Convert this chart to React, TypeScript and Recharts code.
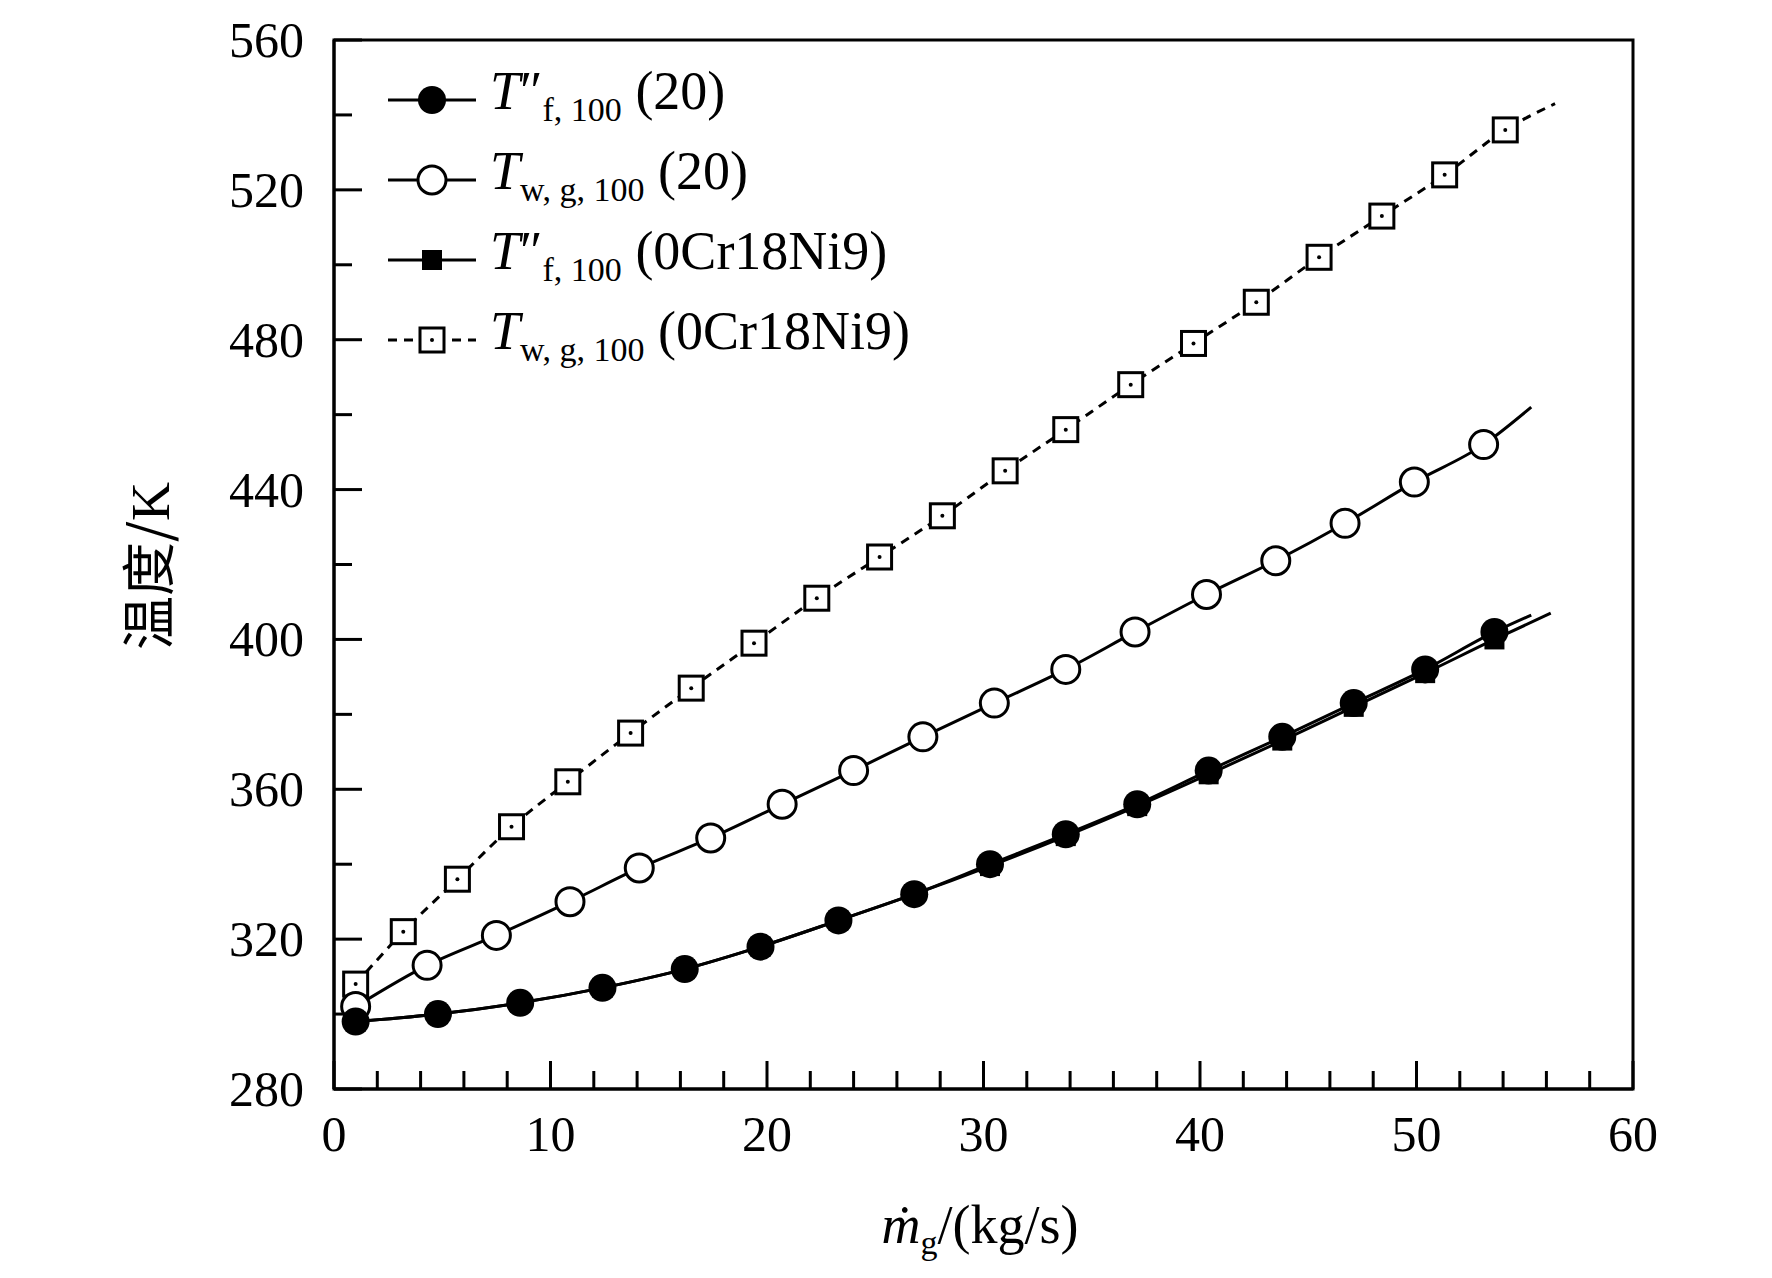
import React from 'react';
import { LineChart, Line, XAxis, YAxis, ReferenceArea } from 'recharts';

// filled circles: T''f,100 (20)
const fc_x = [1, 4.8, 8.6, 12.4, 16.2, 19.7, 23.3, 26.8, 30.3, 33.8, 37.1, 40.4, 43.8, 47.1, 50.4, 53.6, 55.3];
const fc_y = [298, 300, 303, 307, 312, 318, 325, 332, 340, 348, 356, 365, 374, 383, 392, 402, 406.5];
// filled squares: T''f,100 (0Cr18Ni9)
const fs_x = [1, 4.8, 8.6, 12.4, 16.2, 19.7, 23.3, 26.8, 30.3, 33.8, 37.1, 40.4, 43.8, 47.1, 50.4, 53.6, 56.2];
const fs_y = [298, 300, 303, 307, 312, 318, 325, 332, 339.5, 347.5, 355.5, 364, 373, 382, 391, 400, 407];
// open circles: Tw,g,100 (20)
const oc_x = [1, 4.3, 7.5, 10.9, 14.1, 17.4, 20.7, 24, 27.2, 30.5, 33.8, 37, 40.3, 43.5, 46.7, 49.9, 53.1, 55.3];
const oc_y = [302, 313, 321, 330, 339, 347, 356, 365, 374, 383, 392, 402, 412, 421, 431, 442, 452, 462];
// open squares: Tw,g,100 (0Cr18Ni9)
const os_x = [1, 3.2, 5.7, 8.2, 10.8, 13.7, 16.5, 19.4, 22.3, 25.2, 28.1, 31, 33.8, 36.8, 39.7, 42.6, 45.5, 48.4, 51.3, 54.1, 56.4];
const os_y = [308, 322, 336, 350, 362, 375, 387, 399, 411, 422, 433, 445, 456, 468, 479, 490, 502, 513, 524, 536, 543];

const xTicks = [0, 2, 4, 6, 8, 10, 12, 14, 16, 18, 20, 22, 24, 26, 28, 30, 32, 34, 36, 38, 40, 42, 44, 46, 48, 50, 52, 54, 56, 58, 60];
const yTicks = [280, 300, 320, 340, 360, 380, 400, 420, 440, 460, 480, 500, 520, 540, 560];

const build = (xs: number[], ys: number[]) =>
  xs.map((x, i) => ({ x, y: ys[i], last: i === xs.length - 1 }));

const FONT = '"Liberation Serif", "Times New Roman", serif';

const mkDot = (kind: string) => (p: any) => {
  const { cx, cy, payload, index } = p;
  if (payload.last || cx == null) return <g key={index} />;
  if (kind === 'fc') return <circle key={index} cx={cx} cy={cy} r={14} fill="#000" />;
  if (kind === 'oc') return <circle key={index} cx={cx} cy={cy} r={14} fill="#fff" stroke="#000" strokeWidth={3} />;
  if (kind === 'fs') return <rect key={index} x={cx - 10} y={cy - 10} width={20} height={20} fill="#000" />;
  return (
    <g key={index}>
      <rect x={cx - 12} y={cy - 12} width={24} height={24} fill="#fff" stroke="#000" strokeWidth={3} />
      <circle cx={cx} cy={cy} r={2} fill="#000" />
    </g>
  );
};

const XTick = (p: any) => {
  const { x, y, payload } = p;
  const major = payload.value % 10 === 0;
  return (
    <g>
      <line x1={x} y1={y} x2={x} y2={y - (major ? 28 : 18)} stroke="#000" strokeWidth={3} />
      {major ? <text x={x} y={y + 62} textAnchor="middle" fontSize={50} fontFamily={FONT} fill="#000">{payload.value}</text> : null}
    </g>
  );
};

const YTick = (p: any) => {
  const { x, y, payload } = p;
  const major = (payload.value - 280) % 40 === 0;
  return (
    <g>
      <line x1={x} y1={y} x2={x + (major ? 28 : 18)} y2={y} stroke="#000" strokeWidth={3} />
      {major ? <text x={x - 30} y={y + 17} textAnchor="end" fontSize={50} fontFamily={FONT} fill="#000">{payload.value}</text> : null}
    </g>
  );
};

const legendRows = [
  { kind: 'fc', sub: 'f, 100', prime: true, tail: '(20)', dash: false },
  { kind: 'oc', sub: 'w, g, 100', prime: false, tail: '(20)', dash: false },
  { kind: 'fs', sub: 'f, 100', prime: true, tail: '(0Cr18Ni9)', dash: false },
  { kind: 'os', sub: 'w, g, 100', prime: false, tail: '(0Cr18Ni9)', dash: true },
];

const LegendBox = () => (
  <div style={{ position: 'absolute', left: 384, top: 60, fontFamily: FONT, fontSize: 54, lineHeight: '80px' }}>
    {legendRows.map((r, i) => (
      <div key={i} style={{ display: 'flex', alignItems: 'center', height: 80 }}>
        <svg width={96} height={40}>
          <line x1={4} y1={20} x2={92} y2={20} stroke="#000" strokeWidth={3} strokeDasharray={r.dash ? '9 7' : undefined} />
          {mkDot(r.kind)({ cx: 48, cy: 20, payload: { last: false }, index: 0 })}
        </svg>
        <span style={{ marginLeft: 10, whiteSpace: 'nowrap' }}>
          <i>T</i>
          {r.prime ? <span>″</span> : null}
          <sub style={{ fontSize: 34 }}>{r.sub}</sub> {r.tail}
        </span>
      </div>
    ))}
  </div>
);

export default function App() {
  return (
    <div style={{ position: 'absolute', left: 0, top: 0, width: 1772, height: 1278, background: '#fff', fontFamily: FONT }}>
      <LineChart width={1772} height={1278} margin={{ top: 40, right: 139, bottom: 0, left: 0 }}>
        <XAxis xAxisId="b" type="number" dataKey="x" domain={[0, 60]} ticks={xTicks} allowDataOverflow interval={0}
          stroke="#000" strokeWidth={3} tickLine={false} tickSize={0} tickMargin={0} tick={<XTick />} height={189} />
        <YAxis yAxisId="l" type="number" domain={[280, 560]} ticks={yTicks} allowDataOverflow interval={0}
          stroke="#000" strokeWidth={3} tickLine={false} tickSize={0} tickMargin={0} tick={<YTick />} width={334} />
        <ReferenceArea xAxisId="b" yAxisId="l" x1={0} x2={60} y1={280} y2={560} fill="none" stroke="#000" strokeWidth={3} fillOpacity={0} />
        <Line xAxisId="b" yAxisId="l" data={build(os_x, os_y)} dataKey="y" stroke="#000" strokeWidth={3} strokeDasharray="9 7" dot={mkDot('os')} isAnimationActive={false} type="monotone" />
        <Line xAxisId="b" yAxisId="l" data={build(oc_x, oc_y)} dataKey="y" stroke="#000" strokeWidth={3} dot={mkDot('oc')} isAnimationActive={false} type="monotone" />
        <Line xAxisId="b" yAxisId="l" data={build(fs_x, fs_y)} dataKey="y" stroke="#000" strokeWidth={3} dot={mkDot('fs')} isAnimationActive={false} type="monotone" />
        <Line xAxisId="b" yAxisId="l" data={build(fc_x, fc_y)} dataKey="y" stroke="#000" strokeWidth={3} dot={mkDot('fc')} isAnimationActive={false} type="monotone" />
      </LineChart>
      <LegendBox />
      <div style={{ position: 'absolute', left: 145, top: 566, transform: 'translate(-50%, -50%) rotate(-90deg)', fontSize: 54, whiteSpace: 'nowrap', fontFamily: '"Noto Sans CJK SC", serif' }}>
        温度/<span style={{ fontFamily: FONT }}>K</span>
      </div>
      <div style={{ position: 'absolute', left: 980, top: 1228, transform: 'translate(-50%, -50%)', fontSize: 54, whiteSpace: 'nowrap' }}>
        <i>ṁ</i><sub style={{ fontSize: 34 }}>g</sub>/(kg/s)
      </div>
    </div>
  );
}
